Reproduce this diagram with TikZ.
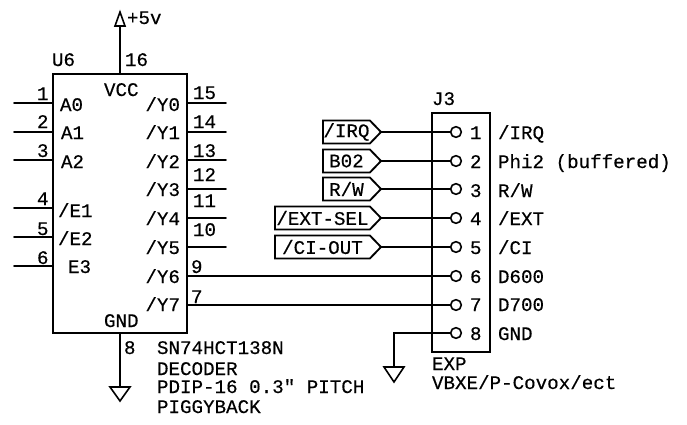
\documentclass[tikz,border=0pt]{standalone}
\usepackage{fontspec}
\setmainfont[FakeBold=0.4]{Liberation Mono}
\newfontfamily\plainmono[FakeBold=0.4]{Liberation Mono}
\usetikzlibrary{shapes.symbols}
\tikzset{
  x=0.75pt,y=-0.75pt,
  wire/.style={line width=1.4pt,line cap=round,line join=miter},
  chip/.style={draw,line width=1.4pt,rectangle,inner sep=0pt,outer sep=0pt},
  lbl/.style={anchor=base west,inner sep=0pt,outer sep=0pt,font=\fontsize{14.4}{16}\selectfont},
  rlbl/.style={anchor=base east,inner sep=0pt,outer sep=0pt,font=\fontsize{14.4}{16}\selectfont},
  sock/.style={draw,circle,line width=1.2pt,minimum size=8pt,inner sep=0pt,outer sep=0pt,fill=white},
  flag/.style={draw,line width=1.4pt,signal,signal to=east,signal from=nowhere,signal pointer angle=92,
    minimum height=17.25pt,inner xsep=0pt,inner ysep=0pt,outer sep=0pt,anchor=east,font=\fontsize{14.4}{16}\selectfont},
  gnd/.style={draw,line width=1.2pt,line join=miter},
}
\begin{document}
\begin{tikzpicture}
\useasboundingbox (0,0) rectangle (687,425);
% boxes
\node[chip,minimum width=100.5pt,minimum height=194.25pt] (u6) at (120,203.5) {};
\node[chip,minimum width=43.5pt,minimum height=179.25pt] (j3) at (461,232.5) {};
% left pins of U6
\foreach \n/\y in {1/103,2/132,3/160,4/208,5/237,6/266}{
  \coordinate (lp\n) at (14,\y);
  \coordinate (le\n) at (53,\y);
  \draw[wire] (lp\n) -- (le\n);
}
% right pins of U6
\foreach \n/\y in {15/103,14/132,13/160,12/189,11/218,10/247}{
  \coordinate (rp\n) at (226,\y);
  \coordinate (re\n) at (187,\y);
  \draw[wire] (re\n) -- (rp\n);
}
% sockets
\foreach \n/\y in {1/132,2/161,3/189,4/218,5/247,6/276,7/305,8/333}{
  \node[sock] (s\n) at (456,\y) {};
}
% power
\coordinate (vccpin) at (120,74);
\coordinate (vcctop) at (120,26);
\coordinate (gndpin) at (120,333);
\coordinate (gndend) at (120,387);
\draw[wire] (vccpin) -- (vcctop);
\draw[gnd] (vcctop) -- ++(-5,0) -- (120,12) -- (125,26) -- cycle;
\draw[wire] (gndpin) -- (gndend);
\draw[gnd] (gndend) -- ++(-10,0) -- (120,401) -- (130,387) -- cycle;
% outputs 9 and 7
\coordinate (y6) at (187,276);
\coordinate (y7) at (187,305);
\draw[wire] (y6) -- (s6);
\draw[wire] (y7) -- (s7);
% ground of J3
\coordinate (jg) at (394,367);
\draw[wire] (s8) -| (jg);
\draw[gnd] (jg) -- ++(-10,0) -- (394,382) -- (404,367) -- cycle;
% flags
\node[flag,minimum width=43.5pt] (f1) at (381,132) {/IRQ\hspace{6pt}};
\node[flag,minimum width=43.5pt] (f2) at (381,161) {B02\hspace{6pt}};
\node[flag,minimum width=43.5pt] (f3) at (381,189) {R/W\hspace{6pt}};
\node[flag,minimum width=79.5pt] (f4) at (381,218) {/EXT-SEL\hspace{6pt}};
\node[flag,minimum width=79.5pt] (f5) at (381,247) {/CI-OUT\hspace{6pt}};
\foreach \n in {1,...,5}{\draw[wire] (f\n.east) -- (s\n);}
% U6 text
\node[lbl] (t1) at (52,66) {U6};
\node[lbl] (t2) at (125,66) {16};
\node[lbl] (t3) at (104,96) {VCC};
\node[lbl] (t4) at (127,24) {+5v};
\foreach \n/\x/\y in {1/37/100,2/37/128,3/37/157,4/37/205,5/37/235,6/37/264}{
  \node[lbl] (nl\n) at (\x,\y) {\n};
}
\node[lbl] (a0) at (60,111) {A0};
\node[lbl] (a1) at (61,139) {A1};
\node[lbl] (a2) at (61,168) {A2};
\node[lbl] (e1) at (58,217) {/E1};
\node[lbl] (e2) at (58,245) {/E2};
\node[lbl] (e3) at (68,273) {E3};
\foreach \n/\y in {0/111,1/139,2/168,3/196,4/225,5/254,6/283,7/311}{
  \node[rlbl] (y\n) at (180,\y) {/Y\n};
}
\foreach \n/\x/\y in {15/193/99,14/193/128,13/193/157,12/193/181,11/193/207,10/193/236,9/191/273,7/191/303}{
  \node[lbl] (nr\n) at (\x,\y) {\n};
}
\node[lbl] (tgnd) at (104,327) {GND};
\node[lbl] (t8) at (124,354) {8};
\node[lbl] (d1) at (157,354) {SN74HCT138N};
\node[lbl] (d2) at (157,375) {DECODER};
\node[lbl] (d3) at (157,393) {PDIP-16 0.3{\plainmono"} PITCH};
\node[lbl] (d4) at (157,413) {PIGGYBACK};
% J3 text
\node[lbl] (j) at (432,105) {J3};
\foreach \n/\y/\t in {1/139/{/IRQ},2/168/{Phi2 (buffered)},3/197/{R/W},4/225/{/EXT},5/254/{/CI},6/283/{D600},7/311/{D700},8/340/{GND}}{
  \node[lbl] (jn\n) at (470,\y) {\n};
  \node[lbl] (jl\n) at (498,\y) {\t};
}
\node[lbl] (x1) at (432,370) {EXP};
\node[lbl] (x2) at (432,389) {VBXE/P-Covox/ect};
\end{tikzpicture}
\end{document}
